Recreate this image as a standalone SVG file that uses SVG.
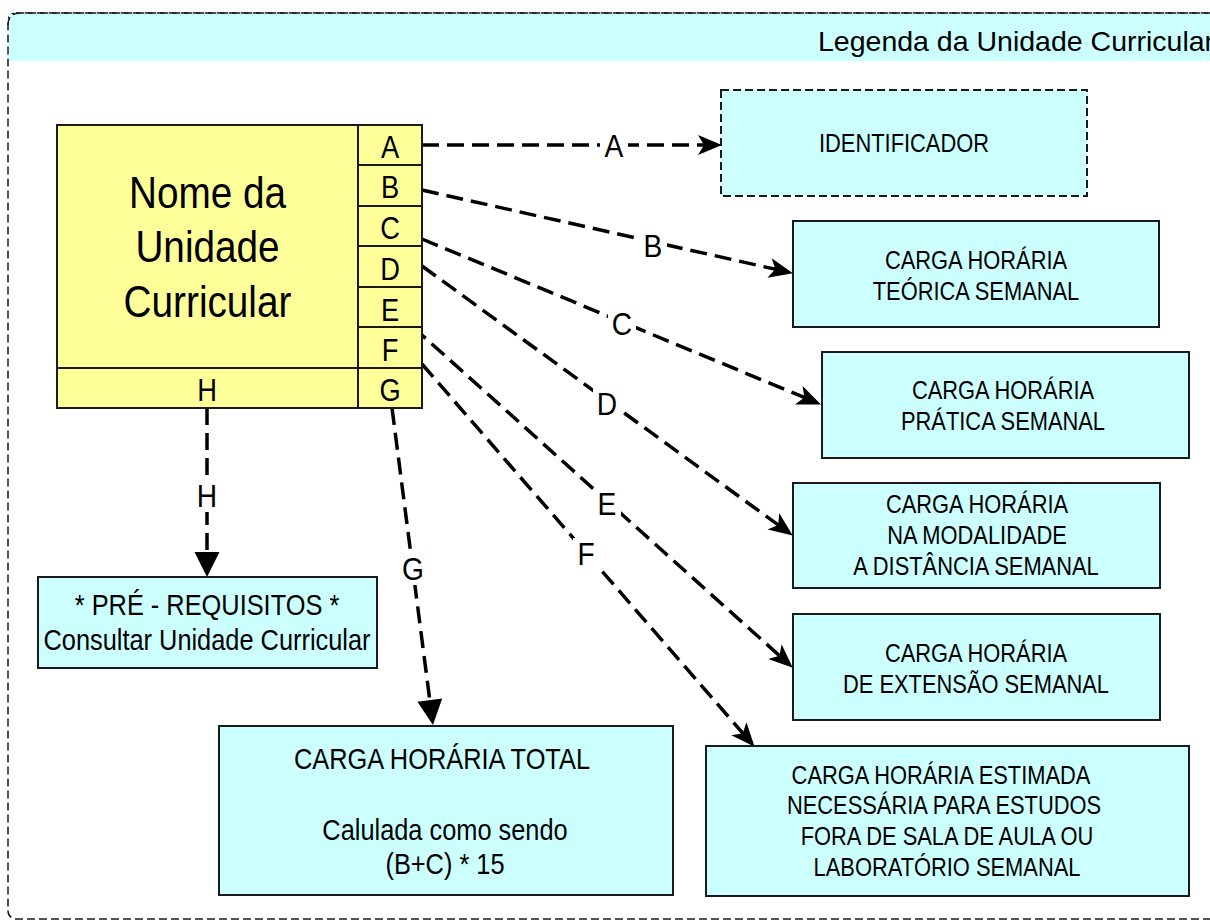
<svg xmlns="http://www.w3.org/2000/svg" width="1210" height="923" viewBox="0 0 1210 923">
<defs>
<style>
text{font-family:"Liberation Sans",Arial,sans-serif;fill:#000;text-anchor:middle}
.box{fill:#CCFFFF;stroke:#1a1a1a;stroke-width:2}
.yel{fill:#FFFF99;stroke:#1a1a1a;stroke-width:2}
.ln{fill:none;stroke:#1a1a1a;stroke-width:2}
.t25{font-size:25px}
.t29{font-size:29px}
.t31{font-size:31px}
.t44{font-size:44px}
.lab{font-size:32px}
.bg{fill:#fff}
.con{fill:none;stroke:#000;stroke-width:3.5;stroke-dasharray:17 8}
</style>
<marker id="st" markerUnits="userSpaceOnUse" viewBox="-15 -12 28 24" refX="0" refY="0" markerWidth="28" markerHeight="24" orient="auto">
<path d="M11,0 L-13,-10 L-7,0 L-13,10 Z" fill="#000"/>
</marker>
<marker id="tri" markerUnits="userSpaceOnUse" viewBox="-16 -14 28 28" refX="0" refY="0" markerWidth="28" markerHeight="28" orient="auto">
<path d="M10,0 L-15,-12.5 L-15,12.5 Z" fill="#000"/>
</marker>
</defs>

<g id="container">
<rect x="8" y="13" width="1230" height="906" rx="8" fill="#fff" stroke="#1a1a1a" stroke-width="1.5" stroke-dasharray="8 4"/>
<rect x="9" y="14" width="1201" height="47" fill="#CCFFFF"/>
<path d="M8,25 Q8,13 20,13 L1210,13" fill="none" stroke="#1a1a1a" stroke-width="1.5" stroke-dasharray="8 4"/>
<text x="818" y="51" style="font-size:28.5px;text-anchor:start">Legenda da Unidade Curricular</text>
</g>

<g id="connectors">
<path class="con" d="M422,145 L711,145" marker-end="url(#st)"/>
<path class="con" d="M422,190 L782.2,270.8" marker-end="url(#st)"/>
<path class="con" d="M422,239 L810.8,400.2" marker-end="url(#st)"/>
<path class="con" d="M422,266 L783.9,529.1" marker-end="url(#st)"/>
<path class="con" d="M413,327 L784.6,660.3" marker-end="url(#st)"/>
<path class="con" d="M422,364 L747.4,738.5" marker-end="url(#st)"/>
<path class="con" d="M392,408 L431.7,715.1" marker-end="url(#tri)"/>
<path class="con" d="M207,408 L207,567" marker-end="url(#tri)"/>
<rect class="bg" x="600" y="130" width="28" height="32"/>
<rect class="bg" x="639" y="230" width="28" height="32"/>
<rect class="bg" x="608" y="308" width="28" height="32"/>
<rect class="bg" x="593" y="388" width="29" height="32"/>
<rect class="bg" x="594" y="488" width="27" height="32"/>
<rect class="bg" x="573" y="538" width="26" height="32"/>
<rect class="bg" x="399" y="553" width="28" height="32"/>
<rect class="bg" x="193" y="480" width="28" height="32"/>
<text class="lab" transform="translate(614,157) scale(0.88,1)">A</text>
<text class="lab" transform="translate(653,257) scale(0.88,1)">B</text>
<text class="lab" transform="translate(622,335) scale(0.88,1)">C</text>
<text class="lab" transform="translate(607,415) scale(0.88,1)">D</text>
<text class="lab" transform="translate(607,515) scale(0.88,1)">E</text>
<text class="lab" transform="translate(586,565) scale(0.88,1)">F</text>
<text class="lab" transform="translate(413,580) scale(0.88,1)">G</text>
<text class="lab" transform="translate(207,507) scale(0.88,1)">H</text>
</g>

<g id="unidade">
<rect class="yel" x="57" y="125" width="365" height="283"/>
<path class="ln" d="M358,125 V408 M57,368 H422 M358,165 H422 M358,206 H422 M358,246 H422 M358,287 H422 M358,327 H422"/>
<text class="t44" transform="translate(207.5,208) scale(0.88,1)">Nome da</text>
<text class="t44" transform="translate(207.5,262) scale(0.88,1)">Unidade</text>
<text class="t44" transform="translate(207.5,317) scale(0.88,1)">Curricular</text>
<text class="t31" transform="translate(390,158) scale(0.88,1)">A</text>
<text class="t31" transform="translate(390,198) scale(0.88,1)">B</text>
<text class="t31" transform="translate(390,239) scale(0.88,1)">C</text>
<text class="t31" transform="translate(390,280) scale(0.88,1)">D</text>
<text class="t31" transform="translate(390,321) scale(0.88,1)">E</text>
<text class="t31" transform="translate(390,361) scale(0.88,1)">F</text>
<text class="t31" transform="translate(390,401) scale(0.88,1)">G</text>
<text class="t31" transform="translate(207,401) scale(0.88,1)">H</text>
</g>

<g id="identificador">
<rect x="721" y="90" width="366" height="106" fill="#CCFFFF" stroke="#1a1a1a" stroke-width="2" stroke-dasharray="8 4"/>
<text class="t25" transform="translate(904,152) scale(0.875,1)">IDENTIFICADOR</text>
</g>

<g id="teorica">
<rect class="box" x="793" y="221" width="366" height="106"/>
<text class="t25" transform="translate(976,269) scale(0.875,1)">CARGA HORÁRIA</text>
<text class="t25" transform="translate(976,300) scale(0.875,1)">TEÓRICA SEMANAL</text>
</g>

<g id="pratica">
<rect class="box" x="822" y="352" width="367" height="106"/>
<text class="t25" transform="translate(1003,399) scale(0.875,1)">CARGA HORÁRIA</text>
<text class="t25" transform="translate(1003,430) scale(0.875,1)">PRÁTICA SEMANAL</text>
</g>

<g id="distancia">
<rect class="box" x="793" y="483" width="367" height="105"/>
<text class="t25" transform="translate(977,513) scale(0.875,1)">CARGA HORÁRIA</text>
<text class="t25" transform="translate(977,544) scale(0.875,1)">NA MODALIDADE</text>
<text class="t25" transform="translate(976,575) scale(0.875,1)">A DISTÂNCIA SEMANAL</text>
</g>

<g id="extensao">
<rect class="box" x="793" y="614" width="367" height="106"/>
<text class="t25" transform="translate(976,662) scale(0.875,1)">CARGA HORÁRIA</text>
<text class="t25" transform="translate(976,693) scale(0.875,1)">DE EXTENSÃO SEMANAL</text>
</g>

<g id="estimada">
<rect class="box" x="706" y="746" width="483" height="150"/>
<text class="t25" transform="translate(941,784) scale(0.875,1)">CARGA HORÁRIA ESTIMADA</text>
<text class="t25" transform="translate(944,814) scale(0.875,1)">NECESSÁRIA PARA ESTUDOS</text>
<text class="t25" transform="translate(947,845) scale(0.875,1)">FORA DE SALA DE AULA OU</text>
<text class="t25" transform="translate(947,876) scale(0.875,1)">LABORATÓRIO SEMANAL</text>
</g>

<g id="prerequisitos">
<rect class="box" x="38" y="577" width="339" height="91"/>
<text class="t29" transform="translate(207,615) scale(0.875,1)">* PRÉ - REQUISITOS *</text>
<text class="t29" transform="translate(207,650) scale(0.875,1)">Consultar Unidade Curricular</text>
</g>

<g id="total">
<rect class="box" x="219" y="726" width="454" height="169"/>
<text class="t29" transform="translate(442,769) scale(0.875,1)">CARGA HORÁRIA TOTAL</text>
<text class="t29" transform="translate(445,840) scale(0.875,1)">Calulada como sendo</text>
<text class="t29" transform="translate(445,874) scale(0.875,1)">(B+C) * 15</text>
</g>
</svg>
